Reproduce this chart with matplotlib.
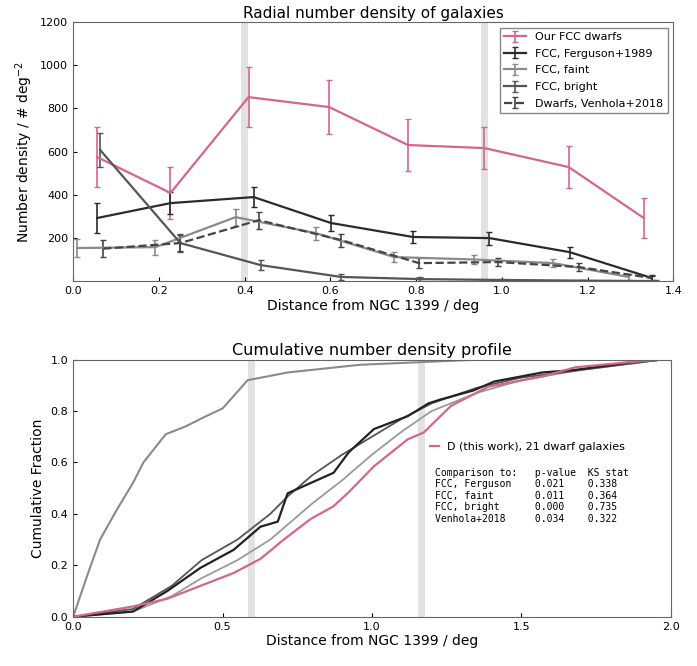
import numpy as np
import matplotlib
matplotlib.use('Agg')
import matplotlib.pyplot as plt

# ---- top panel: radial number density (deg^-2) ----
red_x = [0.056, 0.227, 0.409, 0.597, 0.781, 0.959, 1.156, 1.331]
red_y = [574, 408, 852, 806, 630, 616, 528, 292]
red_err = [139, 120, 139, 125, 120, 97, 97, 93]

ferg_x = [0.056, 0.227, 0.421, 0.601, 0.793, 0.971, 1.158, 1.35]
ferg_y = [292, 361, 389, 269, 204, 199, 134, 14]
ferg_err = [70, 50, 45, 35, 30, 30, 25, 15]

faint_x = [0.009, 0.192, 0.379, 0.566, 0.749, 0.934, 1.120, 1.296]
faint_y = [153, 157, 296, 222, 111, 100, 83, 19]
faint_err = [40, 35, 40, 30, 25, 20, 20, 12]

bright_x = [0.063, 0.250, 0.437, 0.625, 0.810, 1.000, 1.190, 1.360]
bright_y = [607, 176, 74, 19, 9, 5, 2, 0]
bright_err = [80, 40, 25, 12, 8, 6, 4, 3]

venh_x = [0.070, 0.250, 0.433, 0.625, 0.807, 0.992, 1.179, 1.350]
venh_y = [150, 176, 282, 190, 83, 88, 65, 14]
venh_err = [40, 35, 40, 30, 22, 20, 18, 10]

top_labels = ['Our FCC dwarfs', 'FCC, Ferguson+1989', 'FCC, faint',
              'FCC, bright', 'Dwarfs, Venhola+2018']
top_vlines = [0.398, 0.959]

# ---- bottom panel: cumulative fraction ----
cum_red_x = [0.0, 0.2, 0.315, 0.426, 0.537, 0.627, 0.705, 0.795, 0.872, 0.923,
             1.007, 1.12, 1.174, 1.265, 1.39, 1.57, 1.68, 1.86, 1.97]
cum_red_y = [0.0, 0.04, 0.07, 0.12, 0.17, 0.225, 0.30, 0.38, 0.43, 0.485,
             0.585, 0.69, 0.717, 0.82, 0.895, 0.934, 0.97, 0.99, 1.0]

cum_ferg_x = [0.0, 0.2, 0.315, 0.426, 0.537, 0.627, 0.685, 0.718, 0.795, 0.872,
              0.923, 1.007, 1.12, 1.19, 1.23, 1.34, 1.41, 1.57, 1.68, 1.87, 1.97]
cum_ferg_y = [0.0, 0.02, 0.10, 0.19, 0.26, 0.35, 0.37, 0.48, 0.52, 0.56,
              0.64, 0.73, 0.78, 0.83, 0.845, 0.88, 0.915, 0.95, 0.96, 0.99, 1.0]

cum_venh_x = [0.0, 0.2, 0.33, 0.43, 0.55, 0.66, 0.72, 0.8, 0.9, 1.0,
              1.1, 1.2, 1.35, 1.5, 1.7, 1.97]
cum_venh_y = [0.0, 0.03, 0.12, 0.22, 0.30, 0.40, 0.47, 0.55, 0.63, 0.70,
              0.77, 0.83, 0.89, 0.93, 0.96, 1.0]

cum_faint_x = [0.0, 0.2, 0.33, 0.43, 0.55, 0.66, 0.72, 0.8, 0.9, 1.0,
               1.1, 1.2, 1.35, 1.5, 1.7, 1.97]
cum_faint_y = [0.0, 0.02, 0.08, 0.15, 0.22, 0.30, 0.36, 0.44, 0.53, 0.63,
               0.72, 0.80, 0.87, 0.92, 0.96, 1.0]

cum_bright_x = [0.0, 0.05, 0.09, 0.148, 0.20, 0.235, 0.31, 0.376, 0.436, 0.50,
                0.527, 0.584, 0.718, 0.96, 1.16, 1.35, 1.97]
cum_bright_y = [0.0, 0.17, 0.30, 0.42, 0.52, 0.60, 0.71, 0.74, 0.775, 0.81,
                0.845, 0.92, 0.95, 0.98, 0.99, 1.0, 1.0]

bottom_vlines = [0.594, 1.164]

ks_rows = ['FCC, Ferguson', 'FCC, faint', 'FCC, bright', 'Venhola+2018']
ks_pvals = ['0.021', '0.011', '0.000', '0.034']
ks_stats = ['0.338', '0.364', '0.735', '0.322']

RED = '#d4668c'

fig = plt.figure(figsize=(6.97, 6.66), dpi=100)
ax1 = fig.add_axes([0.105, 0.578, 0.861, 0.389])
ax2 = fig.add_axes([0.105, 0.074, 0.857, 0.386])

for v in top_vlines:
    ax1.axvline(v, color='#e2e2e2', lw=5, zorder=0)

ekw = dict(capsize=2.5, lw=1.6, elinewidth=1.2)
ax1.errorbar(red_x, red_y, yerr=red_err, color=RED, ecolor=RED, label=top_labels[0], **ekw)
ax1.errorbar(ferg_x, ferg_y, yerr=ferg_err, color='#2b2b2b', label=top_labels[1], **ekw)
ax1.errorbar(faint_x, faint_y, yerr=faint_err, color='#8a8a8a', label=top_labels[2], **ekw)
ax1.errorbar(bright_x, bright_y, yerr=bright_err, color='#555555', label=top_labels[3], **ekw)
ax1.errorbar(venh_x, venh_y, yerr=venh_err, color='#444444', ls='--', label=top_labels[4], **ekw)

ax1.set_xlim(0, 1.4)
ax1.set_ylim(0, 1200)
ax1.set_xticks(np.arange(0, 1.41, 0.2))
ax1.set_yticks(np.arange(200, 1201, 200))
ax1.set_title('Radial number density of galaxies', fontsize=11, pad=3)
ax1.set_xlabel('Distance from NGC 1399 / deg', fontsize=10, labelpad=2)
ax1.set_ylabel('Number density / # deg$^{-2}$', fontsize=10)
ax1.legend(loc='upper right', fontsize=8, edgecolor='#888888', fancybox=False,
           framealpha=1, labelspacing=0.6)

for v in bottom_vlines:
    ax2.axvline(v, color='#e2e2e2', lw=5, zorder=0)

ax2.plot(cum_bright_x, cum_bright_y, color='#8a8a8a', lw=1.5)
ax2.plot(cum_faint_x, cum_faint_y, color='#9a9a9a', lw=1.3)
ax2.plot(cum_venh_x, cum_venh_y, color='#555555', lw=1.3)
ax2.plot(cum_ferg_x, cum_ferg_y, color='#222222', lw=1.6)
ax2.plot(cum_red_x, cum_red_y, color=RED, lw=1.6,
         label='D (this work), 21 dwarf galaxies')

ax2.set_xlim(0, 2.0)
ax2.set_ylim(0, 1.0)
ax2.set_xticks(np.arange(0, 2.01, 0.5))
ax2.set_yticks(np.arange(0, 1.01, 0.2))
ax2.set_title('Cumulative number density profile', fontsize=11.5, pad=3)
ax2.set_xlabel('Distance from NGC 1399 / deg', fontsize=10, labelpad=2)
ax2.set_ylabel('Cumulative Fraction', fontsize=10)
ax2.legend(loc='upper left', bbox_to_anchor=(0.58, 0.72), fontsize=8, frameon=False,
           handlelength=0.8)

table = 'Comparison to:   p-value  KS stat\n'
for name, p, s in zip(ks_rows, ks_pvals, ks_stats):
    table += f'{name:<16} {p:<8} {s}\n'
ax2.text(0.605, 0.58, table.rstrip(), transform=ax2.transAxes, fontsize=7,
         family='monospace', va='top', ha='left')

for ax in (ax1, ax2):
    ax.tick_params(labelsize=8, direction='in', length=3)
    for sp in ax.spines.values():
        sp.set_color('#666666')

fig.savefig('out.png', dpi=100)
